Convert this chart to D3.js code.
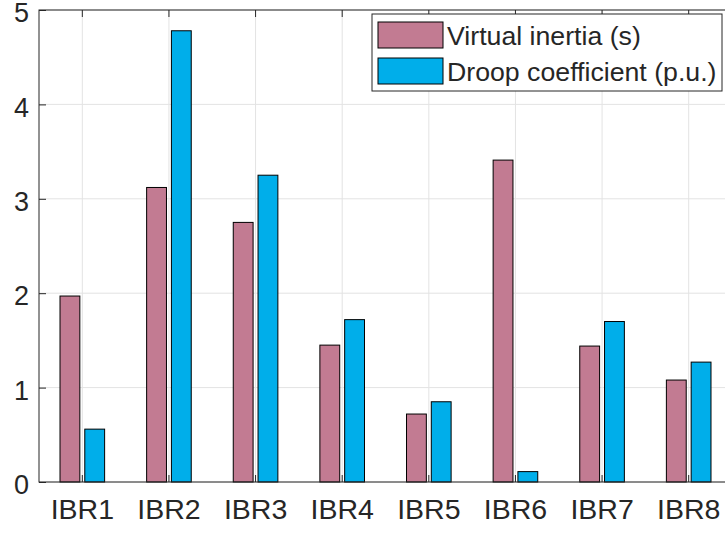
<!DOCTYPE html>
<html lang="en">
<head>
    <meta charset="UTF-8">
    <script src="https://d3js.org/d3.v7.min.js"></script>
    <title>IBR parameters</title>
    <style>
        body { margin: 0; background: #fff; }
        text { font-family: "Liberation Sans", Arial, sans-serif; fill: #262626; }
    </style>
</head>
<body>
<div id="chart"></div>
<script>
    // data
    var categories = ["IBR1", "IBR2", "IBR3", "IBR4", "IBR5", "IBR6", "IBR7", "IBR8"];
    var inertia = [1.97, 3.12, 2.75, 1.45, 0.72, 3.41, 1.44, 1.08];
    var droop = [0.56, 4.78, 3.25, 1.72, 0.85, 0.11, 1.70, 1.27];
    var seriesNames = ["Virtual inertia (s)", "Droop coefficient (p.u.)"];
    var seriesColors = ["#c27b92", "#00aeea"];
    var yTicks = [0, 1, 2, 3, 4, 5];

    var canvasWidth = 725, canvasHeight = 533;
    var plotLeft = 39, plotRight = 732, plotTop = 10, plotBottom = 482;
    var axisColor = "#262626";
    var gridColor = "#e3e3e3";
    var tickLen = 7;

    var svg = d3.select("#chart").append("svg")
        .attr("width", canvasWidth)
        .attr("height", canvasHeight);

    var xScale = d3.scaleBand().domain(categories).range([plotLeft, plotRight]).padding(0);
    var yScale = d3.scaleLinear().domain([0, 5]).range([plotBottom, plotTop]);
    var bw = xScale.bandwidth();
    var center = function(c) { return xScale(c) + bw / 2; };

    // grid
    var grid = svg.append("g");
    grid.selectAll(".gx").data(categories).enter().append("line")
        .attr("x1", function(d) { return center(d); })
        .attr("x2", function(d) { return center(d); })
        .attr("y1", plotTop).attr("y2", plotBottom)
        .attr("stroke", gridColor).attr("stroke-width", 1);
    grid.selectAll(".gy").data(yTicks).enter().append("line")
        .attr("x1", plotLeft).attr("x2", plotRight)
        .attr("y1", function(d) { return yScale(d); })
        .attr("y2", function(d) { return yScale(d); })
        .attr("stroke", gridColor).attr("stroke-width", 1);

    // bars
    var barW = bw * 0.229;
    var offsets = [-0.143 * bw, 0.143 * bw];
    var series = [inertia, droop];
    series.forEach(function(vals, si) {
        svg.append("g").selectAll("rect").data(vals).enter().append("rect")
            .attr("x", function(d, i) { return center(categories[i]) + offsets[si] - barW / 2; })
            .attr("y", function(d) { return yScale(d); })
            .attr("width", barW)
            .attr("height", function(d) { return yScale(0) - yScale(d); })
            .attr("fill", seriesColors[si])
            .attr("stroke", "#000")
            .attr("stroke-width", 1);
    });

    // axes (MATLAB style: box with inward ticks)
    svg.append("rect")
        .attr("x", plotLeft).attr("y", plotTop)
        .attr("width", plotRight - plotLeft).attr("height", plotBottom - plotTop)
        .attr("fill", "none").attr("stroke", axisColor).attr("stroke-width", 1);

    var xAxis = svg.append("g")
        .attr("transform", "translate(0," + plotBottom + ")")
        .call(d3.axisBottom(xScale).tickSize(-tickLen).tickPadding(17));
    xAxis.select(".domain").remove();
    xAxis.selectAll("line").attr("stroke", axisColor);
    xAxis.selectAll("text").attr("font-size", "28.5px").attr("fill", axisColor)
        .attr("font-family", "Liberation Sans, Arial, sans-serif");

    var xAxisTop = svg.append("g")
        .attr("transform", "translate(0," + plotTop + ")")
        .call(d3.axisTop(xScale).tickSize(-tickLen).tickFormat(""));
    xAxisTop.select(".domain").remove();
    xAxisTop.selectAll("line").attr("stroke", axisColor);

    var yAxis = svg.append("g")
        .attr("transform", "translate(" + plotLeft + ",0)")
        .call(d3.axisLeft(yScale).tickValues(yTicks).tickFormat(d3.format("d"))
            .tickSize(-tickLen).tickPadding(10));
    yAxis.select(".domain").remove();
    yAxis.selectAll("line").attr("stroke", axisColor);
    yAxis.selectAll("text").attr("font-size", "27px").attr("fill", axisColor)
        .attr("dy", "0.43em")
        .attr("font-family", "Liberation Sans, Arial, sans-serif");

    // legend
    var legend = svg.append("g");
    legend.append("rect")
        .attr("x", 372).attr("y", 14).attr("width", 350).attr("height", 77)
        .attr("fill", "#fff").attr("stroke", axisColor).attr("stroke-width", 1);
    seriesNames.forEach(function(name, i) {
        var cy = 35 + i * 36;
        legend.append("rect")
            .attr("x", 378).attr("y", cy - 13).attr("width", 65).attr("height", 26)
            .attr("fill", seriesColors[i]).attr("stroke", "#000").attr("stroke-width", 1);
        legend.append("text")
            .attr("x", 447).attr("y", cy + 10)
            .attr("font-size", "26.7px")
            .attr("fill", "#000")
            .text(name);
    });
</script>
</body>
</html>
